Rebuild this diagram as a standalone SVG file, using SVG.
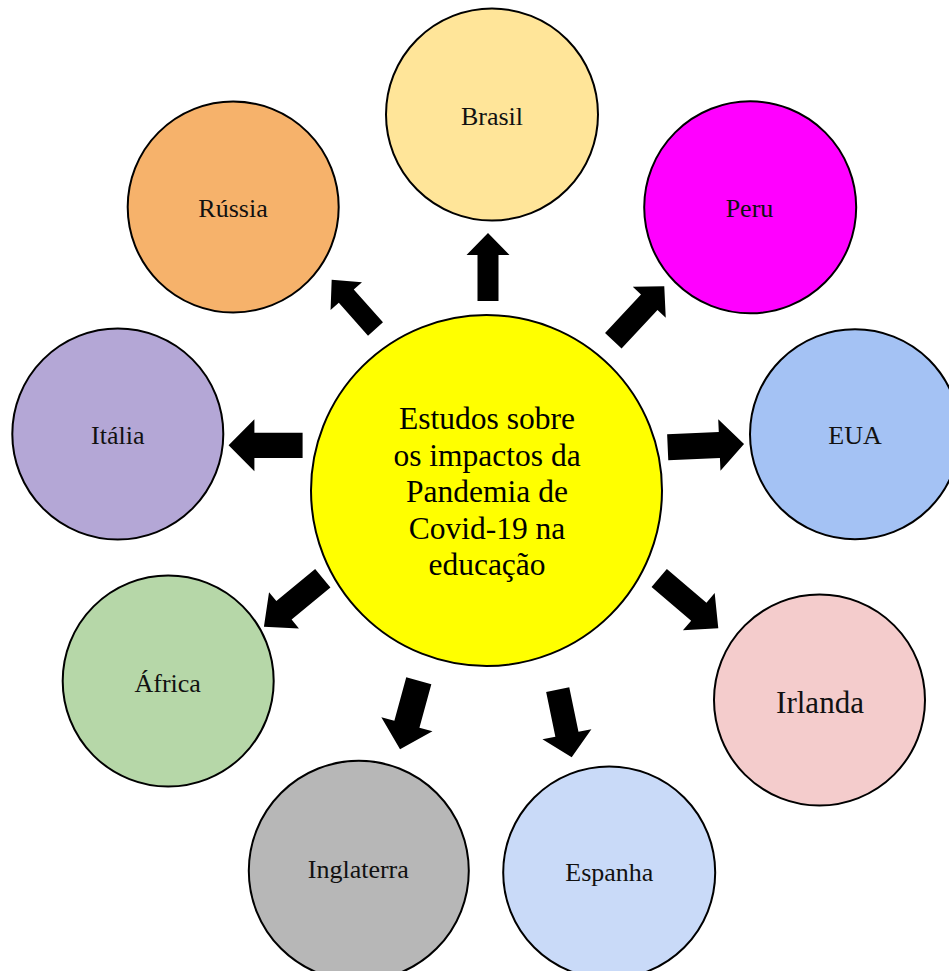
<svg xmlns="http://www.w3.org/2000/svg" width="949" height="971" viewBox="0 0 949 971">
<style>
.node circle{stroke:#000;stroke-width:2}
.lbl{font-family:"Liberation Serif","Times New Roman",serif;font-size:26px;fill:#111;text-anchor:middle}
.big{font-size:31px}
.ctr{font-family:"Liberation Serif","Times New Roman",serif;font-size:31.5px;fill:#000;text-anchor:middle}
#connectors path{fill:#000;stroke:none}
</style>
<rect width="949" height="971" fill="#fff"/>
<g id="connectors">
<path d="M0,-10.5 H46 V-21.5 L68,0 L46,21.5 V10.5 H0 Z" transform="translate(488,301) rotate(-90)"/>
<path d="M0,-10 H44 V-21 L66,0 L44,21 V10 H0 Z" transform="translate(375.5,329) rotate(-131.6)"/>
<path d="M0,-11.3 H52.6 V-22.6 L74.6,0 L52.6,22.6 V11.3 H0 Z" transform="translate(613.3,340.7) rotate(-46.9)"/>
<path d="M0,-12.6 H48.2 V-26 L74,0 L48.2,26 V12.6 H0 Z" transform="translate(302.6,445.3) rotate(180)"/>
<path d="M0,-13 H51.7 V-25.8 L76.4,0 L51.7,25.8 V13 H0 Z" transform="translate(667.7,447.3) rotate(-2.5)"/>
<path d="M0,-12 H50.3 V-23.5 L76.3,0 L50.3,23.5 V12 H0 Z" transform="translate(322.8,578.3) rotate(140.5)"/>
<path d="M0,-11.8 H52 V-24.5 L77.6,0 L52,24.5 V11.8 H0 Z" transform="translate(659.2,578) rotate(40.4)"/>
<path d="M0,-13 H45.1 V-26.5 L71.1,0 L45.1,26.5 V13 H0 Z" transform="translate(418.8,680.7) rotate(105.3)"/>
<path d="M0,-11.8 H45.5 V-25 L69,0 L45.5,25 V11.8 H0 Z" transform="translate(557.7,689.7) rotate(78.3)"/>
</g>
<g id="center" class="node">
<circle cx="486.5" cy="490.5" r="175.5" fill="#FFFF00"/>
<text class="ctr" x="487" y="429.3">Estudos sobre</text>
<text class="ctr" x="487" y="465.7">os impactos da</text>
<text class="ctr" x="487" y="502.1">Pandemia de</text>
<text class="ctr" x="487" y="538.6">Covid-19 na</text>
<text class="ctr" x="487" y="575">educação</text>
</g>
<g id="brasil" class="node">
<circle cx="492" cy="114.5" r="106" fill="#FFE599"/>
<text class="lbl" x="492" y="125">Brasil</text>
</g>
<g id="russia" class="node">
<circle cx="233.2" cy="207" r="105.5" fill="#F6B26B"/>
<text class="lbl" x="233" y="216.7">Rússia</text>
</g>
<g id="peru" class="node">
<circle cx="750.2" cy="207.3" r="106" fill="#FF00FF"/>
<text class="lbl" x="749.5" y="216.7">Peru</text>
</g>
<g id="italia" class="node">
<circle cx="117.8" cy="434" r="105.5" fill="#B4A7D6"/>
<text class="lbl" x="117.8" y="443.7">Itália</text>
</g>
<g id="eua" class="node">
<circle cx="855" cy="434.2" r="105" fill="#A4C2F4"/>
<text class="lbl" x="855" y="444">EUA</text>
</g>
<g id="africa" class="node">
<circle cx="168.2" cy="681" r="105.5" fill="#B6D7A8"/>
<text class="lbl" x="167.7" y="691.7">África</text>
</g>
<g id="irlanda" class="node">
<circle cx="819.5" cy="700" r="105.5" fill="#F4CCCC"/>
<text class="lbl big" x="820" y="712.7">Irlanda</text>
</g>
<g id="inglaterra" class="node">
<circle cx="358.8" cy="870.8" r="110" fill="#B7B7B7"/>
<text class="lbl" x="358.3" y="878">Inglaterra</text>
</g>
<g id="espanha" class="node">
<circle cx="609.2" cy="872.5" r="106" fill="#C9DAF8"/>
<text class="lbl" x="609.3" y="881">Espanha</text>
</g>
</svg>
